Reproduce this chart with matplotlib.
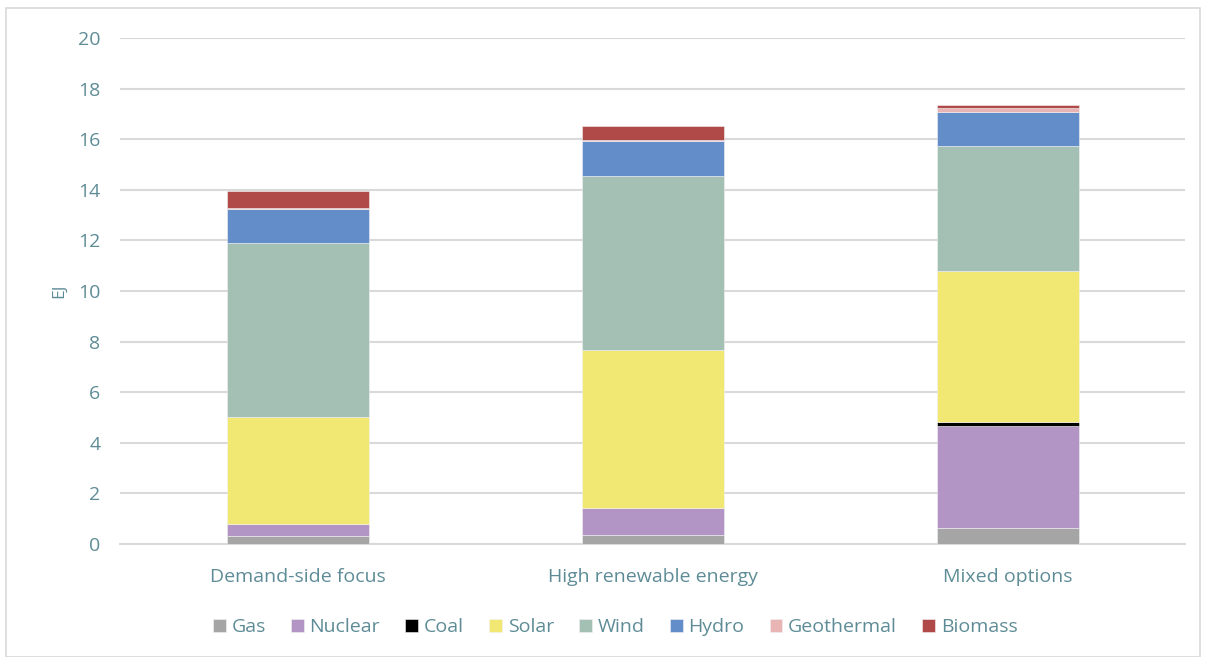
import numpy as np
import matplotlib.pyplot as plt
from matplotlib.patches import Rectangle

plt.rcParams['font.family'] = ['Open Sans', 'DejaVu Sans']

scenarios = ['Demand-side focus', 'High renewable energy', 'Mixed options']
sources = ['Gas', 'Nuclear', 'Coal', 'Solar', 'Wind', 'Hydro', 'Geothermal', 'Biomass']
colors = ['#A5A5A5', '#B395C5', '#000000', '#F0E872', '#A4BFB4', '#628DC8', '#E8B4B4', '#B04A48']

gas = [0.32, 0.36, 0.62]
nuclear = [0.46, 1.07, 4.06]
coal = [0.0, 0.0, 0.15]
solar = [4.25, 6.24, 5.96]
wind = [6.85, 6.89, 4.94]
hydro = [1.36, 1.37, 1.36]
geothermal = [0.04, 0.04, 0.16]
biomass = [0.67, 0.56, 0.09]

series = [gas, nuclear, coal, solar, wind, hydro, geothermal, biomass]

txt = '#5E8C96'

fig = plt.figure(figsize=(12.1, 6.57), dpi=100)
ax = fig.add_axes([120 / 1210, 1 - 544 / 657, 1065 / 1210, 506 / 657])

x = np.arange(len(scenarios))
bottom = np.zeros(len(scenarios))
for name, vals, c in zip(sources, series, colors):
    ax.bar(x, vals, 0.4, bottom=bottom, color=c, label=name,
           edgecolor='#F2F2F2', linewidth=0.4, zorder=3)
    bottom += np.array(vals)

ax.set_xlim(-0.5, 2.5)
ax.set_ylim(0, 20)
ax.set_yticks(np.arange(0, 21, 2))
ax.yaxis.grid(True, color='#D9D9D9', linewidth=1.5, zorder=0)
for s in ['top', 'right', 'left']:
    ax.spines[s].set_visible(False)
ax.spines['bottom'].set_color('#D9D9D9')
ax.spines['bottom'].set_linewidth(1.5)
ax.tick_params(axis='both', length=0, colors=txt, labelsize=14)
ax.tick_params(axis='y', pad=14)
ax.tick_params(axis='x', pad=17)
ax.set_xticks(x)
ax.set_xticklabels(scenarios)
ax.set_ylabel('EJ', color=txt, fontsize=12.5)
ax.yaxis.set_label_coords(-0.05, 0.5)

ax.legend(loc='center', bbox_to_anchor=(0.465, -0.165), ncol=8, frameon=False,
          fontsize=14, labelcolor=txt, handlelength=0.65, handleheight=0.65,
          handletextpad=0.3, columnspacing=1.3)

fig.patches.append(Rectangle((6 / 1210, 0), 1194 / 1210, 1 - 8 / 657,
                             transform=fig.transFigure, fill=False,
                             edgecolor='#D9D9D9', linewidth=1.2))

fig.savefig('out.png')
